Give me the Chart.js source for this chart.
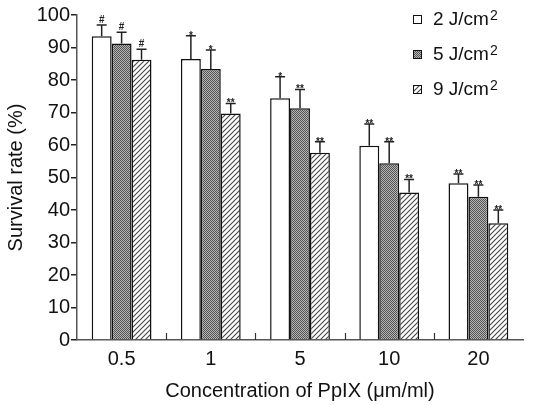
<!DOCTYPE html>
<html>
<head>
<meta charset="utf-8">
<script src="https://cdn.jsdelivr.net/npm/chart.js@4.4.1/dist/chart.umd.min.js"></script>
<style>
  html, body { margin: 0; padding: 0; background: #fff; }
  #wrap { width: 548px; height: 405px; }
</style>
</head>
<body>
<div id="wrap"><canvas id="survivalChart" width="548" height="405"></canvas></div>
<script>
// concentrations of PpIX
const concentrations = ['0.5', '1', '5', '10', '20'];
const yTicks = [0, 10, 20, 30, 40, 50, 60, 70, 80, 90, 100];

// survival rate (%) per light dose
const survival2J = [93.5, 86.5, 74.4, 59.8, 48.2];
const survival5J = [91.2, 83.4, 71.3, 54.4, 44.1];
const survival9J = [86.2, 69.7, 57.6, 45.4, 35.9];

// upper error (SD)
const err2J = [3.4, 7.1, 6.6, 6.7, 2.9];
const err5J = [3.5, 5.8, 5.8, 6.6, 3.6];
const err9J = [3.3, 3.1, 3.4, 4.0, 4.1];

// significance marks above the bars
const marks2J = ['#', '*', '*', '**', '**'];
const marks5J = ['#', '*', '**', '**', '**'];
const marks9J = ['#', '**', '**', '**', '**'];

const FONT = '"Liberation Sans", Arial, Helvetica, sans-serif';

function makePattern(kind) {
    const c = document.createElement('canvas');
    const ctx = c.getContext('2d');
    if (kind === 'dots') {
        c.width = 2; c.height = 2;
        ctx.fillStyle = '#b4b4b4';
        ctx.fillRect(0, 0, 2, 2);
        ctx.fillStyle = '#555';
        ctx.fillRect(0, 0, 1, 1);
        ctx.fillRect(1, 1, 1, 1);
    } else {
        const n = 5;
        c.width = n; c.height = n;
        ctx.fillStyle = '#fff';
        ctx.fillRect(0, 0, n, n);
        ctx.strokeStyle = '#444';
        ctx.lineWidth = 1.1;
        ctx.beginPath();
        ctx.moveTo(0, n); ctx.lineTo(n, 0);
        ctx.moveTo(-1, 1); ctx.lineTo(1, -1);
        ctx.moveTo(n - 1, n + 1); ctx.lineTo(n + 1, n - 1);
        ctx.stroke();
    }
    return ctx.createPattern(c, 'repeat');
}

const grayFill = makePattern('dots');
const hatchFill = makePattern('hatch');

const errors = [err2J, err5J, err9J];
const marks = [marks2J, marks5J, marks9J];

// error bars + significance marks
const errorBarPlugin = {
    id: 'errorBars',
    afterDatasetsDraw(chart) {
        const ctx = chart.ctx;
        const y = chart.scales.y;
        ctx.save();
        chart.data.datasets.forEach((ds, di) => {
            const meta = chart.getDatasetMeta(di);
            meta.data.forEach((bar, i) => {
                const top = y.getPixelForValue(ds.data[i] + errors[di][i]);
                const x = bar.x;
                ctx.strokeStyle = '#222';
                ctx.lineWidth = 1.5;
                ctx.beginPath();
                ctx.moveTo(x, bar.y);
                ctx.lineTo(x, top);
                ctx.moveTo(x - 5, top);
                ctx.lineTo(x + 5, top);
                ctx.stroke();
                ctx.fillStyle = '#222';
                ctx.font = 'bold 10px ' + FONT;
                ctx.textAlign = 'center';
                ctx.textBaseline = 'alphabetic';
                const m = marks[di][i];
                ctx.fillText(m, x, top - 2 + (m === '#' ? 0 : 5));
            });
        });
        ctx.restore();
    }
};

// short inward tick marks between categories on the x axis
const xTickPlugin = {
    id: 'xInnerTicks',
    afterDraw(chart) {
        const ctx = chart.ctx;
        const x = chart.scales.x;
        const bottom = chart.chartArea.bottom;
        const step = (x.right - x.left) / concentrations.length;
        ctx.save();
        ctx.strokeStyle = '#333';
        ctx.lineWidth = 1.2;
        ctx.beginPath();
        for (let i = 1; i < concentrations.length; i++) {
            const px = Math.round(x.left + step * i) + 0.5;
            ctx.moveTo(px, bottom);
            ctx.lineTo(px, bottom - 7);
        }
        ctx.stroke();
        ctx.restore();
    }
};

// legend in the upper right corner
const legendPlugin = {
    id: 'cornerLegend',
    afterDraw(chart) {
        const ctx = chart.ctx;
        const rows = [19, 54, 89];
        ctx.save();
        chart.data.datasets.forEach((ds, i) => {
            const cy = rows[i];
            ctx.fillStyle = ds.backgroundColor;
            ctx.fillRect(413, cy - 4, 9, 9);
            ctx.strokeStyle = '#111';
            ctx.lineWidth = 1;
            ctx.strokeRect(413.5, cy - 3.5, 8, 8);
            ctx.fillStyle = '#111';
            ctx.font = '19px ' + FONT;
            ctx.textAlign = 'left';
            ctx.textBaseline = 'middle';
            const base = ds.label.replace('²', '');
            ctx.fillText(base, 433, cy + 1);
            const w = ctx.measureText(base).width;
            ctx.font = '14px ' + FONT;
            ctx.fillText('2', 433 + w + 1, cy - 3);
        });
        ctx.restore();
    }
};

new Chart(document.getElementById('survivalChart'), {
    type: 'bar',
    data: {
        labels: concentrations,
        datasets: [{
            label: '2 J/cm²',
            data: survival2J,
            backgroundColor: '#ffffff',
            borderColor: '#111',
            borderWidth: 1.5
        }, {
            label: '5 J/cm²',
            data: survival5J,
            backgroundColor: grayFill,
            borderColor: '#111',
            borderWidth: 1.5
        }, {
            label: '9 J/cm²',
            data: survival9J,
            backgroundColor: hatchFill,
            borderColor: '#111',
            borderWidth: 1.5
        }]
    },
    options: {
        responsive: false,
        animation: false,
        devicePixelRatio: 1,
        categoryPercentage: 0.67,
        barPercentage: 1.0,
        layout: { padding: { top: 15, right: 25, left: 0, bottom: 0 } },
        plugins: {
            legend: { display: false },
            tooltip: { enabled: false }
        },
        scales: {
            x: {
                grid: { display: true, drawOnChartArea: false, drawTicks: false },
                border: { display: true, color: '#555', width: 1.5 },
                ticks: { color: '#111', font: { family: FONT, size: 20 }, padding: 7 },
                title: {
                    display: true,
                    text: 'Concentration of PpIX (μm/ml)',
                    color: '#111',
                    font: { family: FONT, size: 20 },
                    padding: { top: 2, bottom: 2 }
                },
                afterFit(scale) { scale.height = 65; }
            },
            y: {
                min: 0,
                max: 100,
                afterBuildTicks(scale) { scale.ticks = yTicks.map(v => ({ value: v })); },
                grid: { display: true, drawOnChartArea: false, drawTicks: true, tickLength: 6, color: '#222', lineWidth: 1.5 },
                border: { display: true, color: '#555', width: 1.5 },
                ticks: { color: '#111', font: { family: FONT, size: 20 }, padding: 1 },
                title: {
                    display: true,
                    text: 'Survival rate (%)',
                    color: '#111',
                    font: { family: FONT, size: 20 },
                    padding: { top: 4, bottom: 2 }
                },
                afterFit(scale) { scale.width = 77; }
            }
        }
    },
    plugins: [errorBarPlugin, xTickPlugin, legendPlugin]
});
</script>
</body>
</html>
